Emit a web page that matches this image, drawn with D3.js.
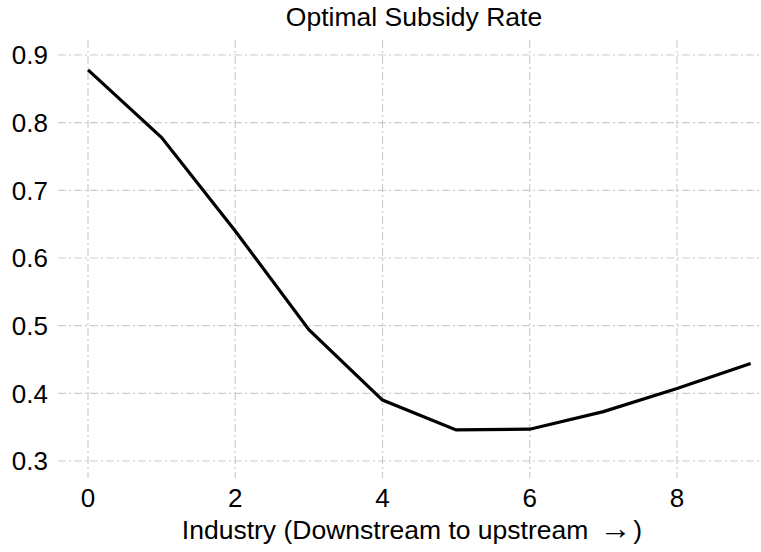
<!DOCTYPE html>
<meta charset="utf-8">
<style>
  body { margin: 0; background: #fff; }
  text { font-family: "Liberation Sans", Arial, sans-serif; fill: #000; }
  .grid line { stroke: #cccccc; stroke-width: 1.2; stroke-dasharray: 8,3,2,3; }
</style>
<body>
<script src="https://d3js.org/d3.v7.min.js"></script>
<script>
  // data
  var industry = [0, 1, 2, 3, 4, 5, 6, 7, 8, 9];
  var subsidy = [0.878, 0.778, 0.640, 0.494, 0.390, 0.346, 0.347, 0.373, 0.407, 0.444];
  var xTicks = [0, 2, 4, 6, 8];
  var yTicks = [0.3, 0.4, 0.5, 0.6, 0.7, 0.8, 0.9];

  var width = 761, height = 552;
  var plot = { left: 58, right: 761, top: 40, bottom: 478 };

  var svg = d3.select("body").append("svg")
    .attr("width", width)
    .attr("height", height);

  // scales set from the tick positions
  var x = d3.scaleLinear().domain([0, 8]).range([88, 677]);
  var y = d3.scaleLinear().domain([0.3, 0.9]).range([461, 55]);

  // grid
  var grid = svg.append("g").attr("class", "grid");
  grid.selectAll(".hline")
    .data(yTicks)
    .enter().append("line")
    .attr("x1", plot.left).attr("x2", plot.right)
    .attr("y1", function (d) { return y(d); })
    .attr("y2", function (d) { return y(d); });
  grid.selectAll(".vline")
    .data(xTicks)
    .enter().append("line")
    .attr("x1", function (d) { return x(d); })
    .attr("x2", function (d) { return x(d); })
    .attr("y1", plot.top).attr("y2", plot.bottom);

  // tick labels
  svg.selectAll(".ylab")
    .data(yTicks)
    .enter().append("text")
    .attr("x", 48)
    .attr("y", function (d) { return y(d); })
    .attr("dy", "0.36em")
    .attr("text-anchor", "end")
    .style("font-size", "26px")
    .text(function (d) { return d3.format(".1f")(d); });

  svg.selectAll(".xlab")
    .data(xTicks)
    .enter().append("text")
    .attr("x", function (d) { return x(d); })
    .attr("y", 498)
    .attr("dy", "0.36em")
    .attr("text-anchor", "middle")
    .style("font-size", "26px")
    .text(function (d) { return d; });

  // line
  var line = d3.line()
    .x(function (d, i) { return x(industry[i]); })
    .y(function (d) { return y(d); });

  svg.append("path")
    .datum(subsidy)
    .attr("fill", "none")
    .attr("stroke", "#000")
    .attr("stroke-width", 3.2)
    .attr("d", line);

  // titles
  svg.append("text")
    .attr("x", 414).attr("y", 16)
    .attr("dy", "0.36em")
    .attr("text-anchor", "middle")
    .style("font-size", "26.5px")
    .text("Optimal Subsidy Rate");

  var xl = svg.append("text")
    .attr("x", 412).attr("y", 529)
    .attr("dy", "0.36em")
    .attr("text-anchor", "middle")
    .style("font-size", "26.5px");
  xl.append("tspan").text("Industry (Downstream to upstream");
  xl.append("tspan").attr("dx", 11).style("font-size", "32px").text("\u2192");
  xl.append("tspan").attr("dx", 2).text(")");
</script>
</body>
